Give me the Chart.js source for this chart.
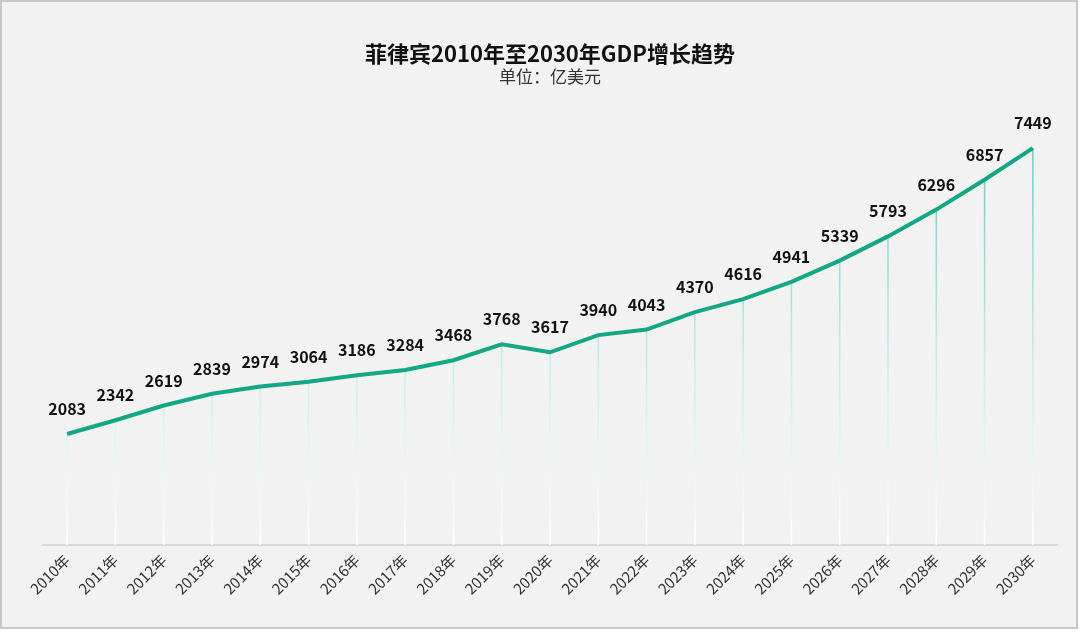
<!DOCTYPE html>
<html>
<head>
<meta charset="utf-8">
<script src="https://cdn.jsdelivr.net/npm/chart.js@4"></script>
<style>
    html, body { margin: 0; padding: 0; background: #ffffff; }
    #frame {
        position: absolute; left: 0; top: 0;
        width: 1078px; height: 629px;
        box-sizing: border-box;
        border: 2px solid #c8c8c8;
        background: #f2f2f2;
    }
    #chart-wrap { position: absolute; left: 0; top: 0; width: 1074px; height: 625px; }
</style>
</head>
<body>
<div id="frame">
    <div id="chart-wrap"><canvas id="gdp-chart"></canvas></div>
</div>
<script>
// Years on the x axis
const years = ['2010年', '2011年', '2012年', '2013年', '2014年', '2015年', '2016年',
    '2017年', '2018年', '2019年', '2020年', '2021年', '2022年', '2023年', '2024年',
    '2025年', '2026年', '2027年', '2028年', '2029年', '2030年'];

// GDP, 亿美元
const gdpValues = [2083, 2342, 2619, 2839, 2974, 3064, 3186, 3284, 3468, 3768, 3617,
    3940, 4043, 4370, 4616, 4941, 5339, 5793, 6296, 6857, 7449];

const lineColor = '#13a687';
const fontFamily = '"Microsoft YaHei", "Noto Sans CJK SC", "Noto Sans", sans-serif';

// Vertical drop lines from each point down to the axis
const dropLines = {
    id: 'dropLines',
    beforeDatasetsDraw(chart) {
        const ctx = chart.ctx;
        const area = chart.chartArea;
        const meta = chart.getDatasetMeta(0);
        const grad = ctx.createLinearGradient(0, area.top + 25, 0, area.bottom);
        grad.addColorStop(0, 'rgba(90, 210, 195, 1)');
        grad.addColorStop(0.55, 'rgba(195, 238, 233, 1)');
        grad.addColorStop(1, 'rgba(255, 255, 255, 1)');
        ctx.save();
        ctx.strokeStyle = grad;
        ctx.lineWidth = 1.5;
        meta.data.forEach(function(pt) {
            ctx.beginPath();
            ctx.moveTo(pt.x, pt.y);
            ctx.lineTo(pt.x, area.bottom);
            ctx.stroke();
        });
        ctx.restore();
    }
};

// Value labels above each point
const valueLabels = {
    id: 'valueLabels',
    afterDatasetsDraw(chart) {
        const ctx = chart.ctx;
        const meta = chart.getDatasetMeta(0);
        ctx.save();
        ctx.font = 'bold 16px ' + fontFamily;
        ctx.fillStyle = '#111111';
        ctx.textAlign = 'center';
        ctx.textBaseline = 'middle';
        meta.data.forEach(function(pt, i) {
            ctx.fillText(String(gdpValues[i]), pt.x, pt.y - 25);
        });
        ctx.restore();
    }
};

const ctx = document.getElementById('gdp-chart').getContext('2d');
new Chart(ctx, {
    type: 'line',
    data: {
        labels: years,
        datasets: [{
            data: gdpValues,
            borderColor: lineColor,
            borderWidth: 4,
            pointRadius: 0,
            tension: 0,
            fill: false
        }]
    },
    options: {
        responsive: true,
        maintainAspectRatio: false,
        animation: false,
        layout: { padding: { left: 41, right: 19, top: 0, bottom: 0 } },
        scales: {
            x: {
                offset: true,
                grid: { display: false, drawTicks: false },
                border: { display: true, color: '#d9d9d9', width: 2 },
                ticks: {
                    minRotation: 45,
                    maxRotation: 45,
                    autoSkip: false,
                    padding: 6,
                    color: '#333333',
                    font: { family: fontFamily, size: 15 }
                },
                afterFit: function(scale) { scale.height = 82; }
            },
            y: {
                display: false,
                min: 0,
                max: 8000
            }
        },
        plugins: {
            legend: { display: false },
            tooltip: { enabled: false },
            title: {
                display: true,
                text: '菲律宾2010年至2030年GDP增长趋势',
                color: '#111111',
                font: { family: fontFamily, size: 22, weight: 'bold' },
                padding: { top: 38, bottom: 0 }
            },
            subtitle: {
                display: true,
                text: '单位：亿美元',
                color: '#333333',
                font: { family: fontFamily, size: 17 },
                padding: { top: 0, bottom: 32 }
            }
        }
    },
    plugins: [dropLines, valueLabels]
});
</script>
</body>
</html>
